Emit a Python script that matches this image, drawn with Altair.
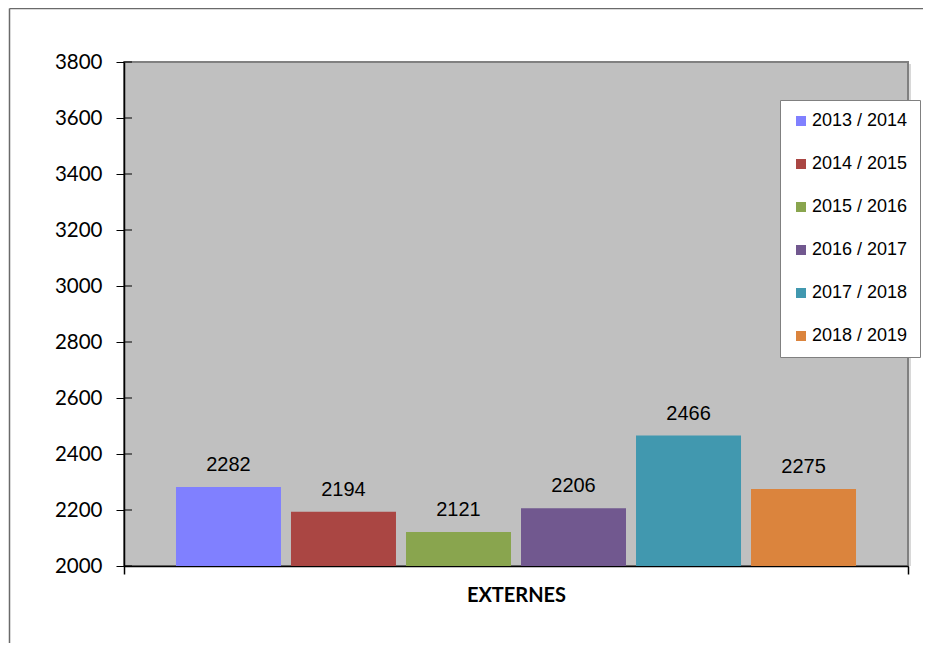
import altair as alt
import pandas as pd

# ---- data ----
group = ["EXTERNES"] * 6
years = ["2013 / 2014", "2014 / 2015", "2015 / 2016", "2016 / 2017", "2017 / 2018", "2018 / 2019"]
values = [2282, 2194, 2121, 2206, 2466, 2275]
colors = ["#8080FF", "#AA4643", "#89A54E", "#71588F", "#4198AF", "#DB843D"]
y_ticks = [2000, 2200, 2400, 2600, 2800, 3000, 3200, 3400, 3600, 3800]

df = pd.DataFrame({"group": group, "year": years, "value": values})
ticks_df = pd.DataFrame({"tick": y_ticks})

W, H = 784, 504

x_enc = alt.X("group:N", title=None,
              scale=alt.Scale(paddingInner=0, paddingOuter=0),
              axis=alt.Axis(tickBand="extent", tickSize=8, tickColor="black", tickWidth=1.5,
                            domainColor="black", domainWidth=1.5,
                            labelFont="Lato", labelFontWeight="bold", labelFontSize=20,
                            labelColor="black", labelPadding=11, labelAngle=0))
xo_enc = alt.XOffset("year:N", sort=years,
                     scale=alt.Scale(paddingInner=0.087, paddingOuter=0.452))
y_scale = alt.Scale(domain=[2000, 3800], nice=False, zero=False)

bars = alt.Chart(df).mark_bar().encode(
    x=x_enc,
    xOffset=xo_enc,
    y=alt.Y("value:Q", scale=y_scale, title=None,
            axis=alt.Axis(values=y_ticks, format="d", tickSize=8, tickColor="black",
                          tickWidth=1, domainColor="black", domainWidth=1.5, grid=False,
                          labelFont="Lato", labelFontSize=20.5, labelColor="black",
                          labelPadding=14)),
    y2=alt.datum(2000),
    color=alt.Color("year:N", sort=years,
                    scale=alt.Scale(domain=years, range=colors),
                    legend=alt.Legend(title=None, orient="none", legendX=656, legendY=38,
                                      symbolType="square", symbolSize=100,
                                      symbolStrokeWidth=0, labelFont="Arial",
                                      labelFontSize=18, labelColor="black",
                                      labelOffset=2, rowPadding=25, padding=12,
                                      fillColor="white", strokeColor="#808080",
                                      labelLimit=200)),
)

labels = alt.Chart(df).mark_text(font="Arial", fontSize=20, color="black",
                                 baseline="alphabetic", dy=-16).encode(
    x=alt.X("group:N"),
    xOffset=alt.XOffset("year:N", sort=years),
    y=alt.Y("value:Q"),
    text=alt.Text("value:Q", format="d"),
)

inner_ticks = alt.Chart(ticks_df).mark_rule(color="black", strokeWidth=1).encode(
    x=alt.value(0), x2=alt.value(8),
    y=alt.Y("tick:Q"),
)

frame = alt.Chart(alt.Data(values=[{}])).mark_rule(color="#6a6a6a", strokeWidth=1.5)
frame_left = frame.encode(x=alt.value(-114.5), y=alt.value(-53.5), y2=alt.value(700))
frame_top = frame.encode(x=alt.value(-114.5), x2=alt.value(900), y=alt.value(-53.5))
shadow = alt.Chart(alt.Data(values=[{}])).mark_rule(color="#d8d8d8", strokeWidth=2).encode(
    x=alt.value(W + 2), y=alt.value(2), y2=alt.value(H))

chart = alt.layer(shadow, bars, labels, inner_ticks, frame_left, frame_top).properties(
    width=W, height=H,
    autosize=alt.AutoSizeParams(type="none"),
    padding={"left": 116, "top": 54, "right": 15, "bottom": 77},
    background="white",
).configure_view(
    fill="#C0C0C0", stroke="#808080", strokeWidth=2
)

chart.save("out.html", embed_options={"renderer": "svg", "actions": False})
